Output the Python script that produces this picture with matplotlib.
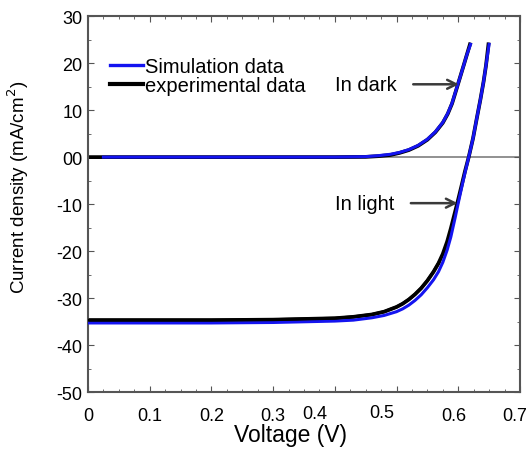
import numpy as np
import matplotlib
matplotlib.use("Agg")
import matplotlib.pyplot as plt
from matplotlib.transforms import ScaledTranslation
from matplotlib.ticker import MultipleLocator

# dark J-V curves (V, mA/cm2)
v_dark_sim = [0.025, 0.1, 0.2, 0.3, 0.4, 0.45, 0.47, 0.49, 0.505, 0.52, 0.535, 0.55, 0.563,
              0.575, 0.583, 0.59, 0.597, 0.603, 0.609, 0.614, 0.620]
j_dark_sim = [0.0, 0.0, 0.0, 0.0, 0.0, 0.1, 0.3, 0.6, 1.0, 1.6, 2.5, 3.8, 5.4,
              7.4, 9.3, 11.5, 14.5, 17.0, 19.6, 21.8, 24.0]
v_dark_exp = [0.0, 0.1, 0.2, 0.3, 0.4, 0.45, 0.47, 0.49, 0.505, 0.52, 0.535, 0.55, 0.563,
              0.575, 0.583, 0.59, 0.597, 0.603, 0.609, 0.614, 0.619]
j_dark_exp = [0.0, 0.0, 0.0, 0.0, 0.0, 0.05, 0.2, 0.45, 0.9, 1.5, 2.4, 3.7, 5.3,
              7.3, 9.2, 11.4, 14.4, 17.0, 19.6, 21.8, 24.0]

# light J-V curves
v_light_exp = [0.0, 0.1, 0.2, 0.3, 0.4, 0.43, 0.46, 0.48, 0.50, 0.51, 0.52, 0.53, 0.54, 0.55,
               0.56, 0.568, 0.575, 0.582, 0.588, 0.595, 0.600, 0.605, 0.611, 0.617, 0.624,
               0.630, 0.636, 0.641, 0.645, 0.649]
j_light_exp = [-34.7, -34.7, -34.7, -34.6, -34.3, -34.0, -33.5, -32.9, -31.9, -31.2, -30.3, -29.2,
               -27.9, -26.3, -24.4, -22.6, -20.6, -18.0, -15.2, -11.6, -9.0, -6.3, -3.0, 0.0,
               4.0, 8.2, 12.3, 16.0, 19.5, 24.0]
v_light_sim = [0.0, 0.1, 0.2, 0.3, 0.4, 0.43, 0.46, 0.48, 0.50, 0.51, 0.52, 0.53, 0.54, 0.55,
               0.56, 0.568, 0.575, 0.582, 0.588, 0.595, 0.600, 0.605, 0.611, 0.617, 0.624,
               0.630, 0.636, 0.641, 0.645, 0.650]
j_light_sim = [-35.3, -35.3, -35.3, -35.2, -34.9, -34.7, -34.2, -33.7, -32.9, -32.3, -31.5, -30.5,
               -29.3, -27.8, -26.1, -24.4, -22.4, -19.8, -17.0, -12.9, -9.8, -6.8, -3.3, 0.0,
               4.0, 8.2, 12.3, 16.0, 19.5, 24.0]

xticks = [0, 0.1, 0.2, 0.3, 0.4, 0.5, 0.6, 0.7]
xtick_labels = ["0", "0.1", "0.2", "0.3", "0.4", "0.5", "0.6", "0.7"]
yticks = [30, 20, 10, 0, -10, -20, -30, -40, -50]
ytick_labels = ["30", "20", "10", "00", "-10", "-20", "-30", "-40", "-50"]

blue = "#1414f0"

plt.rcParams["font.family"] = ["Liberation Sans", "DejaVu Sans"]

fig = plt.figure(figsize=(5.3, 4.52), dpi=100)
ax = fig.add_axes([0.166, 0.1305, 0.815, 0.8315])

ax.axhline(0, color="#888888", lw=1.3, zorder=1)

ax.plot(v_dark_exp, j_dark_exp, color="black", lw=2.7, zorder=2)
ax.plot(v_light_exp, j_light_exp, color="black", lw=2.7, zorder=2)
ax.plot(v_dark_sim, j_dark_sim, color=blue, lw=2.2, zorder=3)
ax.plot(v_light_sim, j_light_sim, color=blue, lw=2.2, zorder=3)
# black stays on top along the flat part of the light curve
ax.plot(v_light_exp[:16], j_light_exp[:16], color="black", lw=2.2, zorder=4)

# legend handles
h_sim, = ax.plot([], [], color=blue, lw=2.4, label="Simulation data")
h_exp, = ax.plot([], [], color="black", lw=3.0, label="experimental data")
ax.legend(handles=[h_sim, h_exp], loc="upper left", bbox_to_anchor=(0.05, 0.892),
          frameon=False, fontsize=14.5, handlelength=1.65, handletextpad=0.1,
          labelspacing=0.0, borderaxespad=0, borderpad=0)

arrow = dict(arrowstyle="->", color="#3a3a3a", lw=1.8, shrinkA=10, shrinkB=0,
             mutation_scale=16)
ax.annotate("In dark", xy=(0.601, 15.5), xytext=(0.40, 15.5), fontsize=14.5,
            va="center", arrowprops=arrow)
ax.annotate("In light", xy=(0.599, -9.8), xytext=(0.40, -9.8), fontsize=14.5,
            va="center", arrowprops=arrow)

ax.set_xlim(0, 0.7)
ax.set_ylim(-50, 30)
ax.set_xticks(xticks)
ax.set_xticklabels(xtick_labels)
ax.set_yticks(yticks)
ax.set_yticklabels(ytick_labels)
ax.xaxis.set_minor_locator(MultipleLocator(0.025))
ax.yaxis.set_minor_locator(MultipleLocator(5))
ax.tick_params(which="both", direction="in", top=True, right=True, color="#555555")
ax.tick_params(which="major", length=4, labelsize=13)
ax.tick_params(axis="x", which="major", pad=11)
ax.tick_params(axis="y", which="major", pad=4)
ax.tick_params(which="minor", length=2)

# original figure has a few shifted tick labels
shifts = {4: (-0.2, 0.02), 5: (-0.15, 0.03), 6: (-0.04, 0.0), 7: (-0.05, 0.0)}
for i, lab in enumerate(ax.get_xticklabels()):
    if i in shifts:
        dx, dy = shifts[i]
        lab.set_transform(lab.get_transform() + ScaledTranslation(dx, dy, fig.dpi_scale_trans))

for sp in ax.spines.values():
    sp.set_color("#555555")
    sp.set_linewidth(1.5)

ax.set_xlabel("Voltage (V)", fontsize=16.5)
ax.xaxis.set_label_coords(0.468, -0.082)
ax.set_ylabel("Current density (mA/cm$^2$)", fontsize=13.5)
ax.yaxis.set_label_coords(-0.132, 0.548)

fig.savefig("out.png", dpi=100)
